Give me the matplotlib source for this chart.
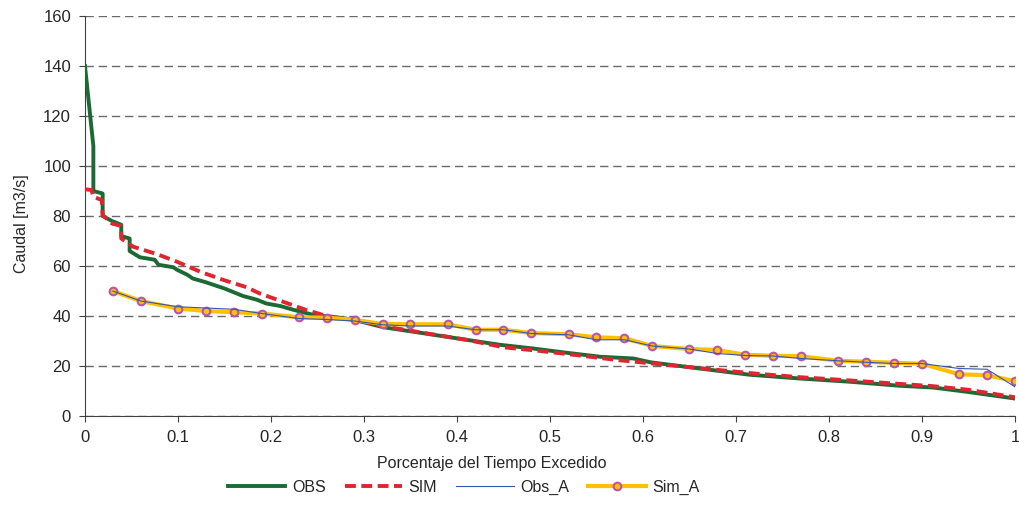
import matplotlib.pyplot as plt

plt.rcParams['font.family'] = ['Liberation Sans', 'DejaVu Sans']

# curva observada (con escalones)
obs_x = [0, 0.009, 0.009, 0.019, 0.019, 0.029, 0.039, 0.039, 0.048, 0.048, 0.059, 0.075, 0.079,
         0.095, 0.099, 0.11, 0.116, 0.13, 0.138, 0.15, 0.16, 0.170, 0.185, 0.195, 0.21, 0.224,
         0.245, 0.289, 0.321, 0.357, 0.41, 0.446, 0.482, 0.518, 0.554, 0.59, 0.608, 0.661,
         0.715, 0.769, 0.823, 0.876, 0.912, 0.948, 1.0]
obs_y = [140, 108, 90, 89, 80, 78, 76.5, 72, 71, 66, 63.5, 62.5, 60.5, 59.5, 58.5, 56.5, 55,
         53.5, 52.5, 51, 49.5, 48, 46.5, 45, 44, 42.5, 40.5, 38.5, 35.5, 33.5, 30.5, 28.5, 27,
         25.3, 23.7, 23, 21.5, 19, 16.5, 15, 13.7, 12.1, 11.4, 9.7, 7]

sim_x = [0, 0.007, 0.009, 0.018, 0.019, 0.029, 0.039, 0.039, 0.052, 0.077, 0.099, 0.124, 0.149,
         0.174, 0.188, 0.213, 0.238, 0.26, 0.29, 0.32, 0.36, 0.41, 0.45, 0.49, 0.53, 0.57, 0.61,
         0.66, 0.72, 0.77, 0.82, 0.87, 0.91, 0.95, 1.0]
sim_y = [90.7, 90.4, 87.7, 86.4, 80.4, 77, 76, 71, 67.7, 64.8, 61.7, 57.7, 54.4, 51.5, 49, 45.7,
         42.4, 40, 38.5, 36, 33.5, 30.5, 27.5, 26, 24.3, 22.5, 21, 19.2, 17, 15.5, 14.3, 13, 12,
         10.5, 7.5]

a_x = [0.03, 0.06, 0.1, 0.13, 0.16, 0.19, 0.23, 0.26, 0.29, 0.32, 0.35, 0.39, 0.42, 0.45, 0.48,
       0.52, 0.55, 0.58, 0.61, 0.65, 0.68, 0.71, 0.74, 0.77, 0.81, 0.84, 0.87, 0.9, 0.94, 0.97, 1.0]
obs_a = [50, 46, 43.7, 43.2, 42.7, 41, 39, 38.6, 38, 36.5, 36, 36, 34.5, 34.5, 33, 32.5, 30.5,
         30.5, 28, 26.8, 25, 24.2, 24, 23, 22.1, 21.5, 21, 21, 19, 18.7, 11.7]
sim_a = [50, 46, 43, 42, 41.5, 41, 39.5, 39.3, 38.5, 36.8, 36.7, 36.7, 34.5, 34.5, 33.2, 32.7,
         31.5, 31.1, 28, 26.8, 26.4, 24.5, 24.1, 23.9, 22.1, 21.7, 21.3, 20.9, 16.7, 16.3, 14]

fig = plt.figure(figsize=(10.19, 5.27), dpi=100)
ax = fig.add_axes([0.0834, 0.2106, 0.9126, 0.759])

ax.plot(obs_x, obs_y, color='#1b6a33', lw=2.8, label='OBS', zorder=3)
ax.plot(sim_x, sim_y, color='#e02530', lw=2.8, ls=(0, (2.8, 1.4)), label='SIM', zorder=4)
ax.plot(a_x, obs_a, color='#3358b0', lw=0.8, label='Obs_A', zorder=5)
ax.plot(a_x, sim_a, color='#ffc000', lw=3, marker='o', ms=5.5, mfc='#ffc000', mec='#b656b0',
        mew=1.5, label='Sim_A', zorder=4)

ax.set_xlim(0, 1)
ax.set_ylim(0, 160)
ax.set_xticks([i / 10 for i in range(11)])
ax.set_xticklabels(['0', '0.1', '0.2', '0.3', '0.4', '0.5', '0.6', '0.7', '0.8', '0.9', '1'])
ax.set_yticks(range(0, 161, 20))
ax.yaxis.grid(True, color='#6a6a6a', ls=(0, (6, 3.5)), lw=1)
ax.set_axisbelow(True)
for s in ['top', 'right']:
    ax.spines[s].set_visible(False)
for s in ['left', 'bottom']:
    ax.spines[s].set_color('#404040')
ax.tick_params(direction='out', length=4, color='#404040', labelsize=12, labelcolor='#262626', pad=6)

ax.set_ylabel('Caudal [m3/s]', fontsize=11.5, color='#262626', labelpad=10, y=0.48)
ax.set_xlabel('Porcentaje del Tiempo Excedido', fontsize=11.5, color='#262626', labelpad=8,
              x=0.4376)

fig.legend(loc='center', bbox_to_anchor=(0.455, 0.075), ncol=4, frameon=False, fontsize=11.5,
           handlelength=3.6, columnspacing=1.2, handletextpad=0.4, labelcolor='#262626')

plt.savefig('out.png', dpi=100)
